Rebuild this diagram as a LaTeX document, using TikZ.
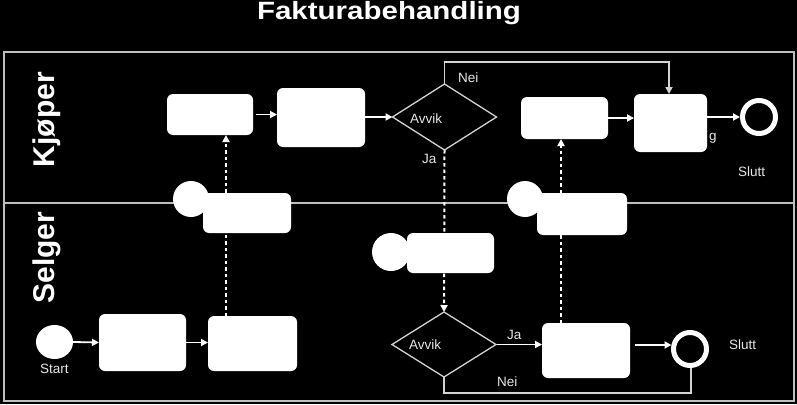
\documentclass[tikz,border=0pt]{standalone}
\usepackage{fontspec}
\setmainfont{Liberation Sans}
\usetikzlibrary{arrows.meta,shapes.geometric}
\pgfdeclarelayer{bg}
\pgfsetlayers{bg,main}
\definecolor{poolgray}{HTML}{BEBEBE}
\definecolor{diagline}{HTML}{D4D4D4}
\definecolor{txtgray}{HTML}{E8E8E8}
\begin{document}
\begin{tikzpicture}[x=1pt,y=-1pt,
  box/.style={draw=none,fill=white,rounded corners=6pt,inner sep=0pt,outer sep=0pt},
  dia/.style={diamond,draw=diagline,line width=1.3pt,fill=black,inner sep=0pt,outer sep=0pt},
  endev/.style={circle,draw=white,line width=5pt,fill=black,inner sep=0pt,minimum size=33pt},
  msgc/.style={circle,fill=white,inner sep=0pt,minimum size=36pt},
  lbl/.style={font=\fontsize{13.5}{16}\selectfont,text=txtgray,inner sep=0pt,anchor=base west},
  lane/.style={font=\fontsize{30}{34}\selectfont\bfseries,text=white,inner sep=0pt,anchor=base,rotate=90},
  flow/.style={draw=white,line width=1.8pt,-{Triangle[length=7pt,width=7pt]}},
  msgflow/.style={draw=white,line width=2pt,dash pattern=on 3.5pt off 3pt,-{Triangle[length=7pt,width=7pt]}},
  neiline/.style={draw=diagline,line width=1.6pt},
  pool/.style={draw=poolgray,line width=2pt}
]
\useasboundingbox (0,0) rectangle (797,404);
\begin{pgfonlayer}{bg}
\fill[black] (0,0) rectangle (797,404);
\draw[pool] (4,52) rectangle (794,401);
\draw[pool] (4,203) -- (794,203);
\end{pgfonlayer}

% title and lanes
\node[font=\fontsize{25}{30}\selectfont\bfseries,text=white,inner sep=0pt,anchor=base] (title) at (389,19.5) {\scalebox{1.18}[1]{Fakturabehandling}};
\node[lane] (kjoper) at (54,119.5) {Kjøper};
\node[lane] (selger) at (54,257.5) {Selger};

% Kjoper lane
\node[box,minimum width=86pt,minimum height=41pt] (box1) at (210,114.5) {};
\node[box,minimum width=88pt,minimum height=59pt] (box2) at (321,117.5) {};
\node[dia,minimum width=104pt,minimum height=66pt] (dia1) at (444.5,117) {};
\node[box,minimum width=87pt,minimum height=42pt] (box3) at (564.5,118) {};
\node[box,minimum width=73pt,minimum height=58pt] (box4) at (670.5,123) {};
\node[endev] (end1) at (759,117) {};

% Selger lane
\node[ellipse,fill=white,inner sep=0pt,minimum width=37pt,minimum height=34pt] (start) at (54.5,342) {};
\node[box,minimum width=87pt,minimum height=57pt] (box5) at (142.5,342.5) {};
\node[box,minimum width=89pt,minimum height=55pt] (box6) at (252.5,343.5) {};
\node[dia,minimum width=104pt,minimum height=65pt] (dia2) at (444,344.5) {};
\node[box,minimum width=88pt,minimum height=55pt] (box7) at (586,350.5) {};
\node[endev] (end2) at (690,349) {};

% message shapes
\node[msgc] (m1c) at (191,199) {};
\node[box,minimum width=88pt,minimum height=40pt] (m1r) at (247,213) {};
\node[msgc,minimum size=38pt] (m2c) at (391,252) {};
\node[box,minimum width=87pt,minimum height=40pt] (m2r) at (450.5,253) {};
\node[msgc] (m3c) at (525,199) {};
\node[box,minimum width=90pt,minimum height=42pt] (m3r) at (582,214) {};

% coordinates for routing
\coordinate (d1) at (226,0);
\coordinate (d3) at (561,0);
\coordinate (n1) at (669,62);
\coordinate (n2) at (691,393);
\coordinate (a2) at (0,345);

\begin{pgfonlayer}{bg}
% sequence flows
\draw[flow] ([xshift=3pt]box1.east) -- (box2.west |- box1.east);
\draw[flow] (box2.east |- dia1.west) -- (dia1.west);
\draw[flow] (box3.east) -- (box4.west |- box3.east);
\draw[flow] (box4.east |- end1.west) -- (end1.west);
\draw[flow] (start.east) -- (box5.west);
\draw[flow] (box5.east) -- (box6.west |- box5.east);
\draw[flow] (dia2.east) -- (box7.west |- dia2.east);
\draw[flow] ([xshift=5pt]box7.east |- a2) -- ([xshift=0.5pt]end2.west |- a2);
\draw[neiline,-{Triangle[length=7pt,width=7pt]}] (dia1.north) |- (n1) -- (box4.north -| n1);
\draw[neiline] (dia2.south) |- (n2) -- (end2.south -| n2);
% message flows
\draw[msgflow] (box6.north -| d1) -- (box1.south -| d1);
\draw[msgflow] (dia1.south) -- (dia2.north);
\draw[msgflow] (box7.north -| d3) -- (box3.south -| d3);
\end{pgfonlayer}

% labels
\node[lbl] (nei1) at (458,82) {Nei};
\node[lbl] (ja1) at (422,163) {Ja};
\node[lbl] (avvik1) at (410,123) {Avvik};
\node[lbl] (avvik2) at (409,349) {Avvik};
\node[lbl] (ja2) at (507,339) {Ja};
\node[lbl] (nei2) at (497,386) {Nei};
\node[lbl] (g) at (709,140) {g};
\node[lbl] (slutt1) at (738,176) {Slutt};
\node[lbl] (slutt2) at (729,349) {Slutt};
\node[lbl] (startl) at (40,373) {Start};
\end{tikzpicture}
\end{document}
